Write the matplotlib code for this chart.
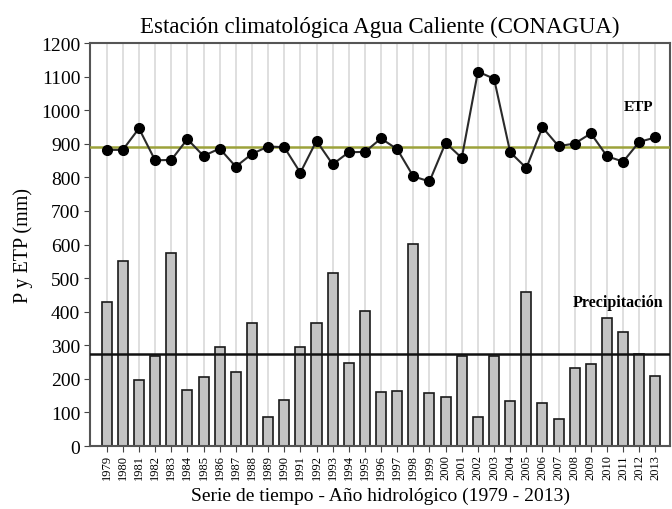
import matplotlib.pyplot as plt
import numpy as np

# %% data
years = list(range(1979, 2014))
precip = [428, 550, 197, 267, 575, 167, 205, 294, 221, 366,
          87, 137, 294, 366, 516, 246, 402, 160, 165, 601,
          158, 147, 267, 87, 267, 135, 458, 127, 79, 232,
          244, 382, 339, 274, 210]
etp = [882, 882, 946, 851, 852, 914, 864, 886, 832, 870,
       892, 890, 814, 909, 839, 875, 876, 916, 884, 803,
       788, 903, 858, 1115, 1094, 875, 828, 949, 893, 901,
       931, 863, 847, 906, 919]
precip_mean = 275
etp_mean = 890

# %% plot
plt.rcParams['font.family'] = ['Liberation Serif', 'DejaVu Serif']
fig = plt.figure(figsize=(6.72, 5.10), dpi=100)
ax = fig.add_axes([0.134, 0.1235, 0.863, 0.790])

x = np.arange(len(years))
for xi in x:
    ax.axvline(xi, color='#d6d6d6', lw=1.1, zorder=0)

ax.bar(x, precip, width=0.62, color='#c3c3c3', edgecolor='#1a1a1a', linewidth=1.2, zorder=2)
ax.axhline(precip_mean, color='#111111', lw=1.8, zorder=3)
ax.axhline(etp_mean, color='#9ca23a', lw=1.8, zorder=3)
ax.plot(x, etp, color='#2a2a2a', lw=1.5, marker='o', markersize=7,
        markerfacecolor='black', markeredgecolor='black', zorder=4)

ax.text(32.96, 1012, 'ETP', fontsize=11, fontweight='bold', ha='center', va='center')
ax.text(31.66, 429, 'Precipitación', fontsize=11.5, fontweight='bold', ha='center', va='center')

ax.set_xlim(-1.03, 34.9)
ax.set_ylim(0, 1200)
ax.set_yticks(range(0, 1201, 100))
ax.set_xticks(x)
ax.set_xticklabels([str(y) for y in years], rotation=90, fontsize=9)
ax.tick_params(axis='y', labelsize=14, length=4, color='#444444', pad=3)
ax.tick_params(axis='x', length=4, color='#444444', pad=2)
for s in ax.spines.values():
    s.set_color('#555555')
    s.set_linewidth(1.5)

ax.set_ylabel('P y ETP (mm)', fontsize=14.5, labelpad=6)
ax.set_xlabel('Serie de tiempo - Año hidrológico (1979 - 2013)', fontsize=14, labelpad=5)
ax.set_title('Estación climatológica Agua Caliente (CONAGUA)', fontsize=16.5, pad=8)

fig.savefig('out.png', dpi=100)
